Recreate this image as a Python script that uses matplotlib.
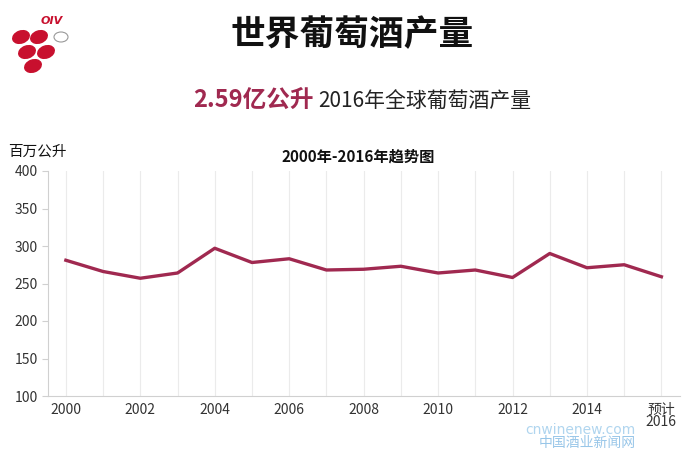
import matplotlib
matplotlib.use('Agg')
import matplotlib.pyplot as plt
from matplotlib.patches import Ellipse
from matplotlib.ticker import MultipleLocator

plt.rcParams['font.family'] = ['Noto Sans CJK SC', 'DejaVu Sans']

# data (million hectolitres)
years = list(range(2000, 2017))
production = [281, 266, 257, 264, 297, 278, 283, 268, 269, 273,
              264, 268, 258, 290, 271, 275, 259]
tick_years = [2000, 2002, 2004, 2006, 2008, 2010, 2012, 2014, 2016]
tick_labels = ['2000', '2002', '2004', '2006', '2008', '2010', '2012', '2014', '预计\n2016']
y_ticks = [100, 150, 200, 250, 300, 350, 400]

wine = '#A02950'

fig = plt.figure(figsize=(7, 4.5), dpi=100)

# overlay in pixel coords for logo / titles
ov = fig.add_axes([0, 0, 1, 1])
ov.set_xlim(0, 700)
ov.set_ylim(450, 0)
ov.axis('off')

# OIV logo
for (cx, cy) in [(21, 37), (39, 37), (27, 52), (46, 52), (33, 66)]:
    ov.add_patch(Ellipse((cx, cy), 17, 12, angle=-20, color='#C8102E'))
ov.add_patch(Ellipse((61, 37), 14, 10, fill=False, ec='#999999', lw=0.8))
ov.text(52, 21, 'OIV', color='#C8102E', fontsize=8, fontweight='bold',
        style='italic', ha='center', va='center', family=['DejaVu Sans'])

ov.text(352, 35, '世界葡萄酒产量', fontsize=25, fontweight='bold',
        ha='center', va='center', color='#111111')
ov.text(193, 100, '2.59亿公升', fontsize=17, fontweight='bold',
        ha='left', va='center', color=wine)
ov.text(318, 101, '2016年全球葡萄酒产量', fontsize=15,
        ha='left', va='center', color='#222222')
ov.text(8, 152, '百万公升', fontsize=10.5, ha='left', va='center', color='#111111')
ov.text(358, 157, '2000年-2016年趋势图', fontsize=11, fontweight='bold',
        ha='center', va='center', color='#111111')

# watermark (kept clear of the last tick label)
ov.text(636, 430, 'cnwinenew.com', fontsize=10, ha='right', va='center',
        color='#9CCBEB', alpha=0.8, family=['DejaVu Sans'])
ov.text(636, 443, '中国酒业新闻网', fontsize=10, ha='right', va='center',
        color='#7FB8E3', alpha=0.8)

ax = fig.add_axes([48 / 700, 54 / 450, 632 / 700, 225 / 450])
ax.plot(years, production, color=wine, lw=2.4, solid_joinstyle='round', zorder=3)

ax.set_xlim(1999.52, 2016.5)
ax.set_ylim(100, 400)
ax.set_yticks(y_ticks)
ax.set_xticks(tick_years)
ax.set_xticklabels(tick_labels)
ax.xaxis.set_minor_locator(MultipleLocator(1))
ax.grid(axis='x', which='both', color='#EBEBEB', lw=0.8)
ax.set_axisbelow(True)

for s in ['top', 'right']:
    ax.spines[s].set_visible(False)
ax.spines['left'].set_color('#D0D0D0')
ax.spines['bottom'].set_color('#D0D0D0')
ax.tick_params(axis='y', length=4, color='#D0D0D0', labelsize=10, labelcolor='#333333')
ax.tick_params(axis='x', which='both', length=0, labelsize=10, labelcolor='#333333', pad=5)
for lab in ax.get_xticklabels() + ax.get_yticklabels():
    lab.set_fontstretch('condensed')
last = ax.get_xticklabels()[-1]
last.set_linespacing(0.85)

fig.savefig('out.png', dpi=100)
